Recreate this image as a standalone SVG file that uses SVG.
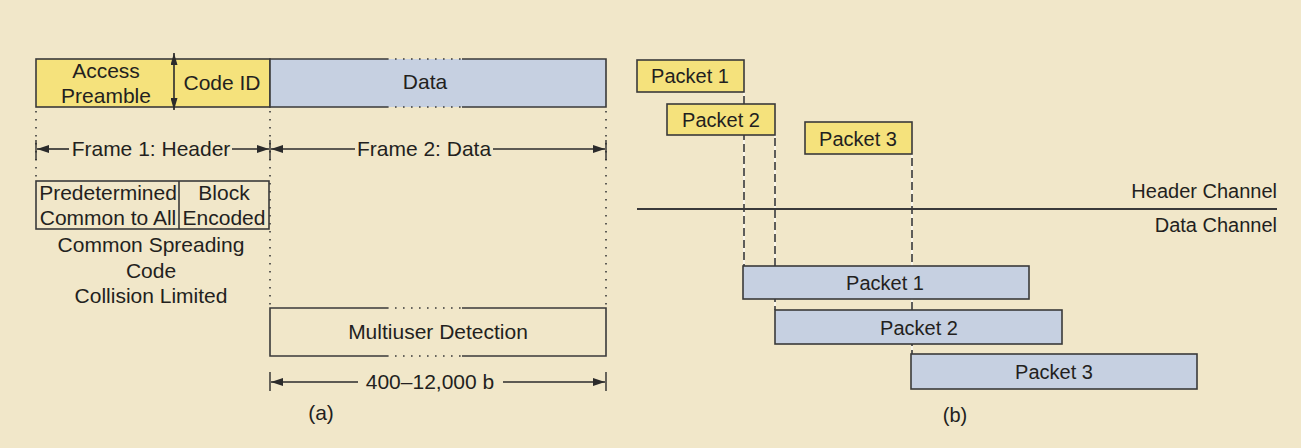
<svg xmlns="http://www.w3.org/2000/svg" width="1301" height="448" viewBox="0 0 1301 448">
  <defs>
    <marker id="ah" viewBox="0 0 12 8" refX="12" refY="4" markerWidth="12" markerHeight="8" markerUnits="userSpaceOnUse" orient="auto-start-reverse">
      <path d="M0,0 L12,4 L0,8 Z" fill="#2b2b2b"/>
    </marker>
    <marker id="ahv" viewBox="0 0 12 7" refX="12" refY="3.5" markerWidth="12" markerHeight="7" markerUnits="userSpaceOnUse" orient="auto-start-reverse">
      <path d="M0,0 L12,3.5 L0,7 Z" fill="#2b2b2b"/>
    </marker>
    <style>
      text { font-family: "Liberation Sans", Arial, sans-serif; font-size: 20px; fill: #231f20; }
      .a text, text.a { font-size: 21px; }
      .mid { text-anchor: middle; }
      .end { text-anchor: end; }
      .box { stroke: #3a3a3a; stroke-width: 1.6; }
      .yel { fill: #f5e27c; }
      .blu { fill: #c6d0e1; }
      .open { fill: none; }
      .dot { stroke: #3a3a3a; stroke-width: 1.6; stroke-dasharray: 1.6 6.4; fill: none; }
      .dim { stroke: #2b2b2b; stroke-width: 1.6; fill: none; }
      .tick { stroke: #2b2b2b; stroke-width: 1.4; }
      .dashw { stroke: #ffffff; stroke-width: 1.2; fill: none; }
      .dash { stroke: #2b2b2b; stroke-width: 1.5; stroke-dasharray: 8 4; fill: none; }
    </style>
  </defs>

  <rect x="0" y="0" width="1301" height="448" fill="#f1e7c9"/>

  <!-- (a) frame structure -->
  <g class="a">
    <g id="frame1-header">
      <rect class="box yel" x="36" y="59" width="234" height="48"/>
      <text class="mid" x="106" y="78">Access</text>
      <text class="mid" x="106" y="103">Preamble</text>
      <text class="mid" x="222" y="90">Code ID</text>
    </g>
    <g id="frame2-data">
      <rect class="blu" x="270" y="59" width="336" height="48"/>
      <path class="box open" d="M387,59 H270 V107 H387 M462,59 H606 V107 H462"/>
      <path class="dot" d="M387,59 H462 M387,107 H462"/>
      <text class="mid" x="425" y="89">Data</text>
    </g>
    <g id="header-coding">
      <rect class="box open" x="36" y="181" width="233" height="48"/>
      <line class="box" x1="179" y1="181" x2="179" y2="229"/>
      <text class="mid" x="108" y="200">Predetermined</text>
      <text class="mid" x="108" y="225">Common to All</text>
      <text class="mid" x="224" y="200">Block</text>
      <text class="mid" x="224" y="225">Encoded</text>
    </g>
    <g id="header-notes">
      <text class="mid" x="151" y="252">Common Spreading</text>
      <text class="mid" x="151" y="278">Code</text>
      <text class="mid" x="151" y="303">Collision Limited</text>
    </g>
    <g id="multiuser-detection">
      <path class="box open" d="M387,308 H270 V356 H387 M462,308 H606 V356 H462"/>
      <path class="dot" d="M387,308 H462 M387,356 H462"/>
      <text class="mid" x="438" y="339">Multiuser Detection</text>
    </g>
    <text id="label-a" class="mid" x="321" y="420">(a)</text>

    <g id="connectors-a">
      <!-- dotted guides -->
      <line class="dot" x1="36" y1="111" x2="36" y2="181"/>
      <line class="dot" x1="270" y1="111" x2="270" y2="308"/>
      <line class="dot" x1="606" y1="111" x2="606" y2="308"/>
      <!-- preamble / code ID split -->
      <line class="dim" x1="174" y1="53" x2="174" y2="110" marker-start="url(#ahv)" marker-end="url(#ahv)"/>
      <!-- frame spans -->
      <line class="tick" x1="36" y1="140" x2="36" y2="160"/>
      <line class="tick" x1="270" y1="140" x2="270" y2="160"/>
      <line class="tick" x1="606" y1="140" x2="606" y2="160"/>
      <line class="dim" x1="37" y1="149" x2="69" y2="149" marker-start="url(#ah)"/>
      <line class="dim" x1="232" y1="149" x2="269" y2="149" marker-end="url(#ah)"/>
      <text class="mid" x="151" y="156">Frame 1: Header</text>
      <line class="dim" x1="271" y1="149" x2="355" y2="149" marker-start="url(#ah)"/>
      <line class="dim" x1="493" y1="149" x2="605" y2="149" marker-end="url(#ah)"/>
      <text class="mid" x="424" y="156">Frame 2: Data</text>
      <!-- payload length -->
      <line class="tick" x1="270" y1="372" x2="270" y2="391"/>
      <line class="tick" x1="606" y1="372" x2="606" y2="391"/>
      <line class="dim" x1="271" y1="382" x2="358" y2="382" marker-start="url(#ah)"/>
      <line class="dim" x1="503" y1="382" x2="605" y2="382" marker-end="url(#ah)"/>
      <text class="mid" x="430" y="389">400–12,000 b</text>
    </g>
  </g>

  <!-- (b) channel timing -->
  <g id="connectors-b">
    <line class="dashw" x1="744" y1="92" x2="744" y2="266"/>
    <line class="dashw" x1="775" y1="135" x2="775" y2="310"/>
    <line class="dashw" x1="912" y1="154" x2="912" y2="354"/>
    <line class="dash" x1="744" y1="96" x2="744" y2="266"/>
    <line class="dash" x1="775" y1="138" x2="775" y2="310"/>
    <line class="dash" x1="912" y1="158" x2="912" y2="354"/>
    <line stroke="#3a3a3a" stroke-width="2" x1="637" y1="209" x2="1277" y2="209"/>
  </g>
  <g id="channel-labels">
    <text class="end" x="1277" y="198">Header Channel</text>
    <text class="end" x="1277" y="232">Data Channel</text>
  </g>
  <g id="hdr-packet1">
    <rect class="box yel" x="637" y="60" width="107" height="32"/>
    <text class="mid" x="690" y="83">Packet 1</text>
  </g>
  <g id="hdr-packet2">
    <rect class="box yel" x="667" y="104" width="108" height="31"/>
    <text class="mid" x="721" y="127">Packet 2</text>
  </g>
  <g id="hdr-packet3">
    <rect class="box yel" x="805" y="122" width="107" height="32"/>
    <text class="mid" x="858" y="146">Packet 3</text>
  </g>
  <g id="data-packet1">
    <rect class="box blu" x="743" y="266" width="286" height="33"/>
    <text class="mid" x="885" y="290">Packet 1</text>
  </g>
  <g id="data-packet2">
    <rect class="box blu" x="775" y="310" width="287" height="34"/>
    <text class="mid" x="919" y="335">Packet 2</text>
  </g>
  <g id="data-packet3">
    <rect class="box blu" x="911" y="354" width="286" height="35"/>
    <text class="mid" x="1054" y="379">Packet 3</text>
  </g>
  <text id="label-b" class="mid" x="955" y="422">(b)</text>
</svg>
